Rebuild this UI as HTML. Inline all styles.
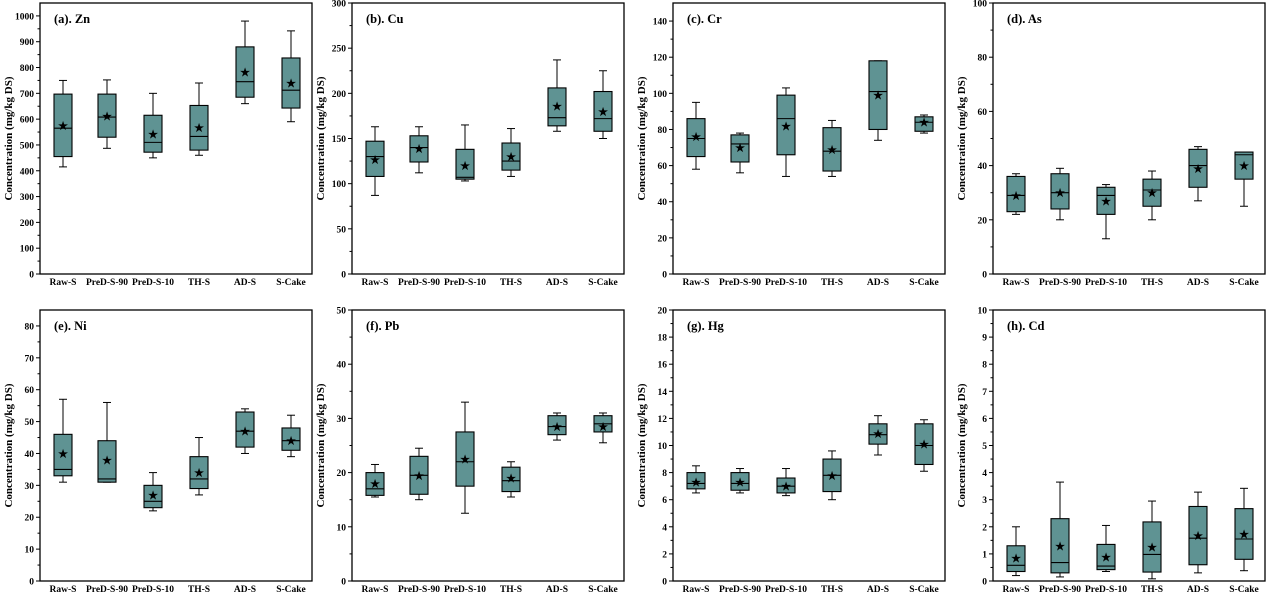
<!DOCTYPE html>
<html><head><meta charset="utf-8"><style>
body{margin:0;background:#fff;}
svg{display:block;font-family:"Liberation Serif",serif;font-weight:bold;}
</style></head><body>
<svg id="s" width="1268" height="593" xmlns="http://www.w3.org/2000/svg"></svg>
<script>
const P=[
{t:"(a). Zn",x:40,y:3,max:1050,step:100,top:1000,d:[[415,455,565,697,750,575],[487,530,608,697,752,612],[450,472,510,615,700,543],[460,480,533,653,740,567],[660,685,745,880,980,783],[590,643,712,837,942,740]]},
{t:"(b). Cu",x:352,y:3,max:300,step:50,top:300,d:[[87,108,130,147,163,127],[112,124,140,153,163,139],[103,105,107,138,165,120],[108,115,125,145,161,130],[158,164,173,206,237,186],[150,158,172,202,225,180]]},
{t:"(c). Cr",x:673,y:3,max:150,step:20,top:140,d:[[58,65,75,86,95,76],[56,62,72,77,78,70],[54,66,86,99,103,82],[54,57,68,81,85,69],[74,80,101,118,118,99],[78,79,84,87,88,84]]},
{t:"(d). As",x:993,y:3,max:100,step:20,top:100,d:[[22,23,29,36,37,29],[20,24,30,37,39,30],[13,22,29,32,33,27],[20,25,31,35,38,30],[27,32,40,46,47,39],[25,35,44,45,45,40]]},
{t:"(e). Ni",x:40,y:310,max:85,step:10,top:80,d:[[31,33,35,46,57,40],[31,31,32,44,56,38],[22,23,25,30,34,27],[27,29,32,39,45,34],[40,42,47,53,54,47],[39,41,44,48,52,44]]},
{t:"(f). Pb",x:352,y:310,max:50,step:10,top:50,d:[[15.5,15.8,17,20,21.5,18],[15,16,19.5,23,24.5,19.5],[12.5,17.5,22,27.5,33,22.5],[15.5,16.5,18.5,21,22,19],[26,27,28.5,30.5,31,28.5],[25.5,27.5,29,30.5,31,28.5]]},
{t:"(g). Hg",x:673,y:310,max:20,step:2,top:20,d:[[6.5,6.8,7.2,8,8.5,7.3],[6.5,6.7,7.2,8,8.3,7.3],[6.3,6.5,7,7.6,8.3,7],[6,6.6,7.8,9,9.6,7.8],[9.3,10.1,10.8,11.6,12.2,10.9],[8.1,8.6,10,11.6,11.9,10.1]]},
{t:"(h). Cd",x:993,y:310,max:10,step:1,top:10,d:[[0.2,0.35,0.58,1.3,2,0.85],[0.15,0.3,0.68,2.3,3.65,1.3],[0.35,0.42,0.55,1.35,2.05,0.88],[0.08,0.33,0.98,2.18,2.95,1.25],[0.3,0.6,1.58,2.75,3.28,1.68],[0.38,0.8,1.55,2.67,3.42,1.73]]}];
const cats=["Raw-S","PreD-S-90","PreD-S-10","TH-S","AD-S","S-Cake"];
const off=[23,67,113,159,205,251];
const W=272,H=271;let h="";
P.forEach(p=>{
 const Y=v=>p.y+H-v/p.max*H;
 h+=`<rect x="${p.x}" y="${p.y}" width="${W}" height="${H}" fill="none" stroke="#000" stroke-width="1.3"/>`;
 for(let v=0;v<=p.top+1e-9;v+=p.step){const y=Y(v);
  h+=`<line x1="${p.x-4}" x2="${p.x}" y1="${y}" y2="${y}" stroke="#000"/><text x="${p.x-6}" y="${y+3.5}" font-size="9.5" text-anchor="end">${+v.toFixed(2)}</text>`;
  const m=v+p.step/2;if(m<p.max){const ym=Y(m);h+=`<line x1="${p.x-2.5}" x2="${p.x}" y1="${ym}" y2="${ym}" stroke="#000"/>`;}}
 h+=`<text transform="translate(${p.x-28},${p.y+H/2}) rotate(-90)" font-size="11" text-anchor="middle">Concentration (mg/kg DS)</text>`;
 h+=`<text x="${p.x+14}" y="${p.y+20}" font-size="12.5">${p.t}</text>`;
 p.d.forEach((d,i)=>{const c=p.x+off[i],bw=18;
  h+=`<line x1="${c}" x2="${c}" y1="${Y(d[0])}" y2="${Y(d[4])}" stroke="#000"/>`;
  h+=`<line x1="${c-4}" x2="${c+4}" y1="${Y(d[0])}" y2="${Y(d[0])}" stroke="#000"/><line x1="${c-4}" x2="${c+4}" y1="${Y(d[4])}" y2="${Y(d[4])}" stroke="#000"/>`;
  h+=`<rect x="${c-bw/2}" y="${Y(d[3])}" width="${bw}" height="${Y(d[1])-Y(d[3])}" fill="#5f9393" stroke="#000" stroke-width="1.1"/>`;
  h+=`<line x1="${c-bw/2}" x2="${c+bw/2}" y1="${Y(d[2])}" y2="${Y(d[2])}" stroke="#000" stroke-width="1.1"/>`;
  h+=`<text x="${c}" y="${Y(d[5])+4}" font-size="11" text-anchor="middle">★</text>`;
  h+=`<text x="${c}" y="${p.y+H+11}" font-size="9.5" text-anchor="middle">${cats[i]}</text>`;});
});
document.getElementById("s").innerHTML=h;
</script>
</body></html>
